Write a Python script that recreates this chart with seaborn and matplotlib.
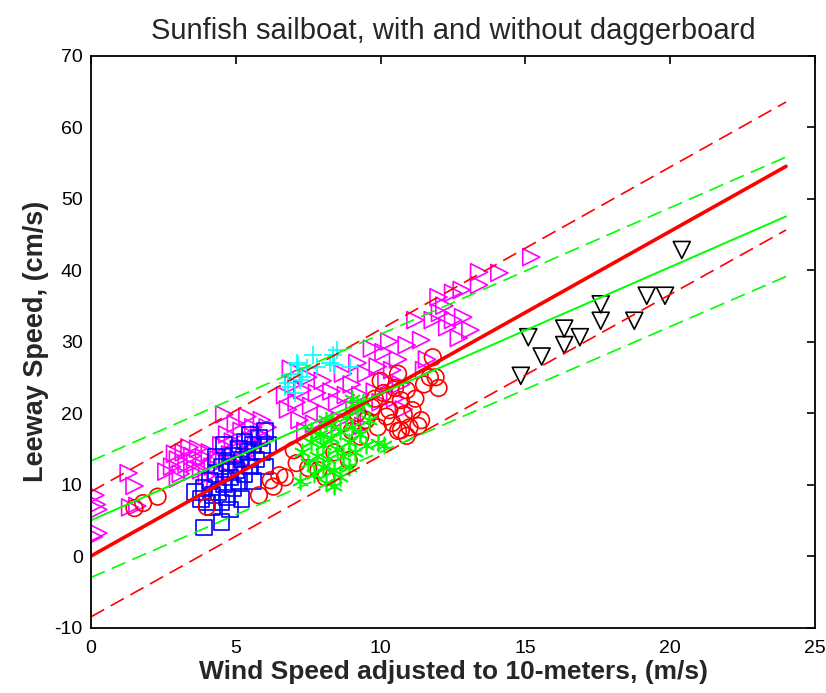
import matplotlib
matplotlib.use("Agg")
import matplotlib.pyplot as plt
import seaborn as sns

sns.set_style("white")
plt.rcParams["font.family"] = ["Liberation Sans", "DejaVu Sans"]
plt.rcParams["axes.unicode_minus"] = False

# Wind speed (m/s) / leeway speed (cm/s), one pair of lists per run group
tri_x = [0.15, 0.2, 0.25, 0.25, 0.1, 1.3, 1.5, 1.35, 1.6,
         2.6, 2.8, 3.0, 3.1, 3.2, 3.3, 3.5, 3.5, 3.6, 3.7, 3.8, 3.9, 4.0, 4.1, 4.2, 4.3,
         3.4, 2.9, 3.0, 4.4,
         4.5, 4.6, 4.7, 4.8, 4.9, 5.0, 5.1, 5.2, 5.3, 5.4, 5.5, 5.6, 5.7, 5.8, 5.9, 6.0,
         5.2, 4.8, 5.5, 6.1, 4.6,
         6.7, 6.8, 7.0, 7.1, 7.2, 7.3, 7.5, 7.6, 7.7, 7.8, 8.0, 8.1, 8.2, 8.3, 8.5, 8.6,
         8.7, 6.9, 7.4, 8.8,
         9.0, 9.1, 9.2, 9.3, 9.5, 9.6, 9.7, 9.8, 9.9, 10.0, 10.1, 10.2, 10.3, 10.4, 10.5,
         10.6, 10.7, 10.9, 9.4, 10.8,
         11.2, 11.4, 11.6, 11.8, 12.0, 12.05, 12.3, 12.5, 12.5, 12.8, 12.85, 13.1, 12.7,
         13.4, 13.4, 14.1, 15.2, 11.5, 12.2]
tri_y = [8.5, 7.2, 6.5, 3.2, 2.7, 11.6, 9.8, 6.8, 7.0,
         11.8, 12.5, 13.5, 11.5, 14.5, 12.8, 11.8, 14.0, 13.0, 15.0, 12.0, 13.8, 11.2, 14.5, 12.5, 10.8,
         15.2, 14.3, 10.8, 13.5,
         15.5, 13.5, 17.0, 14.2, 16.0, 18.5, 15.0, 17.5, 14.0, 19.5, 16.2, 18.0, 15.5, 17.0, 19.0, 16.5,
         12.5, 11.2, 13.0, 18.0, 19.8,
         22.5, 20.5, 24.0, 21.5, 19.0, 23.2, 25.0, 21.0, 18.5, 22.8, 24.5, 20.0, 17.8, 23.0, 21.5, 19.0,
         25.5, 26.2, 17.5, 22.5,
         24.0, 20.5, 27.0, 22.5, 25.5, 19.5, 29.0, 23.0, 26.5, 21.5, 28.5, 24.5, 30.0, 26.0, 22.0,
         27.5, 24.0, 29.5, 18.2, 20.5,
         33.0, 30.2, 27.5, 33.0, 36.2, 34.0, 32.0, 36.8, 33.0, 37.2, 33.4, 31.6, 30.5,
         37.9, 39.7, 39.6, 41.8, 26.0, 35.0]

plus_x = [6.7, 6.8, 7.05, 7.1, 7.15, 7.2, 7.3, 7.45, 7.67, 8.25, 8.36, 8.5, 8.4, 8.95, 7.8, 6.9]
plus_y = [23.6, 24.2, 22.8, 27.0, 26.7, 24.6, 25.0, 26.3, 28.1, 27.0, 28.1, 28.8, 26.7, 26.5, 26.4, 25.5]

sq_x = [3.9, 4.5, 3.8, 3.9, 4.0, 4.1, 4.2, 4.3, 4.4, 4.5, 4.5, 4.6, 4.7, 4.7, 4.8, 4.9, 4.9, 5.0,
        5.1, 5.1, 5.2, 5.3, 5.3, 5.4, 5.5, 5.5, 5.6, 5.7, 5.8, 5.9, 6.0, 6.1, 6.0, 4.2, 4.8, 5.2,
        4.3, 5.6, 3.6, 4.6]
sq_y = [4.0, 4.8, 8.0, 9.5, 7.5, 10.5, 8.5, 11.5, 9.0, 12.5, 7.5, 10.0, 13.0, 8.2, 11.0, 14.0, 9.5, 12.0,
        15.0, 10.5, 13.5, 16.0, 11.5, 14.5, 12.5, 17.0, 15.5, 13.5, 16.5, 14.5, 17.5, 15.5, 12.5, 6.8, 6.5, 8.0,
        13.8, 10.5, 9.0, 15.5]

circ_x = [1.5, 1.8, 2.3, 4.0, 5.8, 6.2, 6.3, 6.5, 6.7, 7.0, 7.1, 7.5, 7.85, 8.1, 8.4, 8.9, 8.7, 9.0,
          9.3, 9.5, 9.7, 9.9, 10.1, 10.2, 10.3, 10.4, 10.5, 10.6, 10.7, 10.7, 10.8, 10.9, 11.0, 11.1,
          11.2, 11.4, 11.5, 11.7, 11.9, 11.8, 10.0, 9.8, 10.6, 11.3, 10.9, 12.0, 9.2]
circ_y = [6.7, 7.4, 8.3, 6.9, 8.5, 10.6, 9.7, 11.3, 11.0, 14.8, 13.0, 12.3, 12.0, 11.0, 14.5, 13.4, 18.6, 17.5,
          16.7, 19.0, 20.8, 18.0, 22.8, 19.5, 20.4, 18.6, 23.5, 17.5, 21.8, 17.6, 19.8, 23.2, 18.0, 20.4,
          22.0, 19.0, 24.0, 25.0, 25.0, 27.8, 24.5, 22.0, 25.5, 18.2, 16.8, 23.5, 20.0]

ast_x = [7.3, 7.5, 7.6, 7.7, 7.8, 7.9, 8.0, 8.0, 8.1, 8.2, 8.3, 8.3, 8.4, 8.5, 8.6, 8.6, 8.7, 8.8,
         8.9, 8.9, 9.0, 9.1, 9.2, 9.3, 9.4, 9.5, 9.6, 9.9, 10.1, 7.2, 8.4, 9.0, 7.6, 8.1]
ast_y = [14.5, 13.0, 16.0, 11.5, 14.0, 17.0, 12.5, 15.5, 10.2, 13.5, 16.5, 18.5, 12.0, 15.0, 17.5, 11.0, 14.0, 19.5,
         16.0, 12.5, 18.0, 14.5, 20.5, 17.0, 21.5, 15.5, 19.0, 15.8, 15.5, 10.5, 9.8, 22.0, 17.5, 19.0]

nodb_x = [15.1, 15.56, 14.84, 16.34, 16.88, 16.34, 17.6, 17.6, 18.76, 19.19, 19.82, 20.4]
nodb_y = [30.6, 27.9, 25.2, 31.8, 30.6, 29.5, 35.2, 32.9, 32.9, 36.4, 36.4, 42.8]

# regression fits and prediction bounds at the ends of the wind range
fit_x = [0, 24]
all_fit = [0.0, 54.5]
all_hi = [9.0, 63.5]
all_lo = [-8.5, 45.6]
db_fit = [5.0, 47.5]
db_hi = [13.3, 55.8]
db_lo = [-3.0, 39.1]

fig = plt.figure(figsize=(8.26, 6.93), dpi=100)
ax = fig.add_axes([0.1102, 0.0945, 0.8765, 0.8254])

ms = 150
lw = 1.2
sns.scatterplot(x=tri_x, y=tri_y, marker=">", s=ms, facecolor="none",
                edgecolor="#ff00ff", linewidth=lw, ax=ax)
sns.scatterplot(x=plus_x, y=plus_y, marker="+", s=ms * 1.1, color="#00ffff", linewidth=lw, ax=ax)
sns.scatterplot(x=sq_x, y=sq_y, marker="s", s=ms * 0.85, facecolor="none",
                edgecolor="#0000ff", linewidth=lw, ax=ax)
sns.scatterplot(x=circ_x, y=circ_y, marker="o", s=ms * 0.95, facecolor="none",
                edgecolor="#ff0000", linewidth=lw, ax=ax)
sns.scatterplot(x=ast_x, y=ast_y, marker=(6, 2, 0), s=ms * 0.9, color="#00ff00", linewidth=lw, ax=ax)
sns.scatterplot(x=nodb_x, y=nodb_y, marker="v", s=ms, facecolor="none",
                edgecolor="black", linewidth=lw, ax=ax)

dash = (0, (9, 4.5))
sns.lineplot(x=fit_x, y=all_fit, color="#ff0000", linewidth=2.6, ax=ax)
sns.lineplot(x=fit_x, y=all_hi, color="#ff0000", linewidth=1.2, linestyle=dash, ax=ax)
sns.lineplot(x=fit_x, y=all_lo, color="#ff0000", linewidth=1.2, linestyle=dash, ax=ax)
sns.lineplot(x=fit_x, y=db_fit, color="#00ff00", linewidth=1.4, ax=ax)
sns.lineplot(x=fit_x, y=db_hi, color="#00ff00", linewidth=1.2, linestyle=dash, ax=ax)
sns.lineplot(x=fit_x, y=db_lo, color="#00ff00", linewidth=1.2, linestyle=dash, ax=ax)

ax.set_xlim(0, 25)
ax.set_ylim(-10, 70)
ax.set_xticks(range(0, 26, 5))
ax.set_yticks(range(-10, 71, 10))
ax.tick_params(axis="x", pad=9)
ax.tick_params(direction="in", length=6, width=1.2, top=True, right=True,
               labelsize=14, colors="black")
ax.tick_params(axis="y", pad=6)
for sp in ax.spines.values():
    sp.set_color("black")
    sp.set_linewidth(1.3)

ax.set_title("Sunfish sailboat, with and without daggerboard", fontsize=21,
             pad=12)
ax.set_xlabel("Wind Speed adjusted to 10-meters, (m/s)", fontsize=19,
              fontweight="bold", labelpad=2)
ax.set_ylabel("Leeway Speed, (cm/s)", fontsize=19.5, fontweight="bold", labelpad=4)

fig.savefig("out.png", dpi=100)
